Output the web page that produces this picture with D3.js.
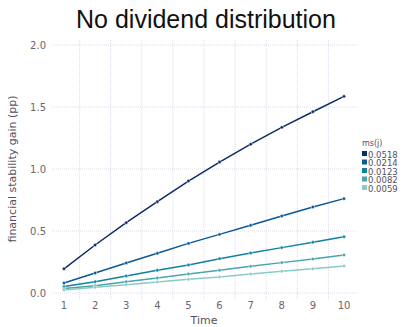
<!DOCTYPE html>
<html>
<head>
<meta charset="utf-8">
<script src="https://cdn.jsdelivr.net/npm/d3@7"></script>
<style>
body { margin: 0; background: #fff; }
text { font-family: "DejaVu Sans", sans-serif; }
</style>
</head>
<body>
<script>
const times = [1, 2, 3, 4, 5, 6, 7, 8, 9, 10];
const msLabels = ["0.0518", "0.0214", "0.0123", "0.0082", "0.0059"];
const colors = ["#0b2c68", "#0a5896", "#0f81a2", "#4aa3ae", "#8acbc6"];
const gain0518 = [0.195, 0.387, 0.567, 0.736, 0.903, 1.056, 1.200, 1.336, 1.462, 1.586];
const gain0214 = [0.081, 0.161, 0.242, 0.320, 0.400, 0.473, 0.546, 0.621, 0.694, 0.761];
const gain0123 = [0.052, 0.091, 0.137, 0.183, 0.226, 0.277, 0.323, 0.366, 0.409, 0.454];
const gain0082 = [0.037, 0.059, 0.091, 0.121, 0.153, 0.183, 0.215, 0.245, 0.274, 0.306];
const gain0059 = [0.025, 0.046, 0.067, 0.089, 0.110, 0.129, 0.153, 0.175, 0.196, 0.218];
const series = [gain0518, gain0214, gain0123, gain0082, gain0059];
const yTicks = [0, 0.5, 1.0, 1.5, 2.0];

const svg = d3.select('body').append('svg')
  .attr('width', 405).attr('height', 327);

const x = d3.scaleLinear().domain([1, 10]).range([64, 344]);
const y = d3.scaleLinear().domain([0, 2]).range([293, 45]);
const left = 52, right = 358;

// title
svg.append('text').attr('x', 206).attr('y', 28)
  .attr('text-anchor', 'middle')
  .style('font-family', '"Liberation Sans", sans-serif')
  .style('font-size', '25px').style('fill', '#111')
  .text('No dividend distribution');

// grid
const grid = svg.append('g').style('stroke', '#d3d3e2').style('stroke-width', 0.8)
  .style('stroke-dasharray', '1,1');
grid.selectAll('.hg').data(yTicks).join('line')
  .attr('x1', left).attr('x2', right)
  .attr('y1', d => y(d)).attr('y2', d => y(d));
grid.selectAll('.vg').data(times.slice(0, -1)).join('line')
  .attr('x1', d => x(d + 0.5)).attr('x2', d => x(d + 0.5))
  .attr('y1', 40).attr('y2', 299);

// y ticks
svg.append('g').selectAll('text').data(yTicks).join('text')
  .attr('x', 46).attr('y', d => y(d) + 3.5)
  .attr('text-anchor', 'end')
  .style('font-size', '10px').style('fill', '#6c6670')
  .text(d => d.toFixed(1));

// x ticks
svg.append('g').selectAll('text').data(times).join('text')
  .attr('x', d => x(d)).attr('y', 309)
  .attr('text-anchor', 'middle')
  .style('font-size', '10px').style('fill', '#6c6670')
  .text(d => d);

// axis labels
svg.append('text').attr('x', 204).attr('y', 324)
  .attr('text-anchor', 'middle')
  .style('font-size', '11px').style('fill', '#565060')
  .text('Time');
svg.append('text')
  .attr('transform', 'translate(16,169) rotate(-90)')
  .attr('text-anchor', 'middle')
  .style('font-size', '11px').style('fill', '#565060')
  .text('financial stability gain (pp)');

// lines and points
const line = d3.line().x((d, i) => x(times[i])).y(d => y(d));
series.forEach((vals, k) => {
  const g = svg.append('g');
  g.append('path').datum(vals).attr('d', line)
    .style('fill', 'none').style('stroke', colors[k]).style('stroke-width', 1.5);
  g.selectAll('circle').data(vals).join('circle')
    .attr('cx', (d, i) => x(times[i])).attr('cy', d => y(d))
    .attr('r', 1.7)
    .style('fill', colors[k]).style('stroke', '#fff').style('stroke-width', 0.5);
});

// legend
const legend = svg.append('g').attr('transform', 'translate(362,0)');
legend.append('text').attr('x', 0).attr('y', 146)
  .style('font-size', '8px').style('fill', '#565060').text('ms(j)');
msLabels.forEach((lab, k) => {
  legend.append('rect').attr('x', 0).attr('y', 151 + k * 8.5)
    .attr('width', 5).attr('height', 5).style('fill', colors[k]);
  legend.append('text').attr('x', 6).attr('y', 157.5 + k * 8.5)
    .style('font-size', '8.5px').style('fill', '#565060').text(lab);
});
</script>
</body>
</html>
